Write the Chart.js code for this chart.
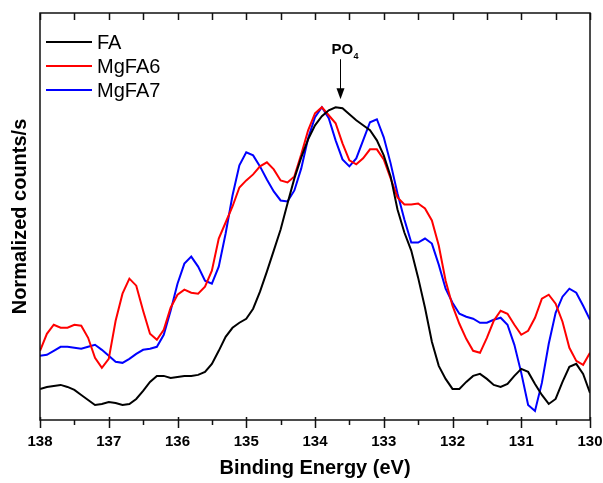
<!DOCTYPE html>
<html>
<head>
<meta charset="utf-8">
<script src="https://cdn.jsdelivr.net/npm/chart.js@4.4.1/dist/chart.umd.min.js"></script>
<style>
  html, body { margin: 0; padding: 0; background: #fff; }
  #wrap { width: 603px; height: 483px; position: relative; }
</style>
</head>
<body>
<div id="wrap"><canvas id="xps"></canvas></div>
<script>
// P 2p region, binding energy in eV (0.1 eV steps)
const energy = [
  138.0, 137.9, 137.8, 137.7, 137.6, 137.5, 137.4, 137.3, 137.2, 137.1,
  137.0, 136.9, 136.8, 136.7, 136.6, 136.5, 136.4, 136.3, 136.2, 136.1,
  136.0, 135.9, 135.8, 135.7, 135.6, 135.5, 135.4, 135.3, 135.2, 135.1,
  135.0, 134.9, 134.8, 134.7, 134.6, 134.5, 134.4, 134.3, 134.2, 134.1,
  134.0, 133.9, 133.8, 133.7, 133.6, 133.5, 133.4, 133.3, 133.2, 133.1,
  133.0, 132.9, 132.8, 132.7, 132.6, 132.5, 132.4, 132.3, 132.2, 132.1,
  132.0, 131.9, 131.8, 131.7, 131.6, 131.5, 131.4, 131.3, 131.2, 131.1,
  131.0, 130.9, 130.8, 130.7, 130.6, 130.5, 130.4, 130.3, 130.2, 130.1,
  130.0
];

const fa = [
  31, 33, 34, 35, 33, 30, 25, 20, 15, 16,
  18, 17, 15, 16, 21, 29, 38, 44, 44, 42,
  43, 44, 44, 45, 48, 56, 69, 83, 92, 97,
  101, 111, 128, 148, 169, 190, 216, 241, 262, 280,
  294, 303, 309, 312, 311, 305, 299, 294, 289, 279,
  264, 243, 210, 187, 169, 142, 112, 78, 54, 41,
  31, 31, 38, 44, 46, 41, 35, 33, 36, 44,
  51, 48, 36, 25, 16, 21, 38, 53, 56, 46,
  27
];

const mgfa6 = [
  69, 86, 95, 92, 92, 95, 94, 82, 62, 52,
  61, 99, 126, 141, 134, 109, 86, 80, 90, 112,
  125, 130, 127, 126, 133, 149, 181, 197, 213, 232,
  239, 245, 253, 257, 250, 239, 237, 243, 265, 289,
  306, 312, 304, 296, 276, 259, 255, 261, 270, 270,
  260, 241, 222, 215, 215, 216, 211, 199, 174, 139,
  114, 96, 81, 69, 67, 82, 99, 109, 106, 95,
  85, 89, 102, 121, 125, 116, 98, 72, 59, 55,
  67
];

const mgfa7 = [
  64, 65, 69, 73, 73, 72, 71, 73, 75, 70,
  64, 58, 57, 61, 66, 70, 71, 73, 85, 109,
  136, 156, 163, 153, 139, 136, 153, 186, 224, 254,
  267, 264, 253, 240, 228, 219, 218, 229, 251, 281,
  302, 312, 301, 279, 260, 253, 261, 279, 297, 300,
  282, 256, 226, 200, 177, 177, 181, 176, 155, 131,
  117, 106, 103, 101, 97, 97, 100, 102, 95, 75,
  47, 15, 9, 37, 76, 107, 123, 131, 127, 114,
  100
];

const seriesNames = ["FA", "MgFA6", "MgFA7"];
const seriesColors = ["#000000", "#ff0000", "#0000ff"];

const majorTicks = [138, 137, 136, 135, 134, 133, 132, 131, 130];
const minorTicks = [137.5, 136.5, 135.5, 134.5, 133.5, 132.5, 131.5, 130.5];

// PO4 marker
const po4Energy = 133.63;
const po4Tip = 320;

const FONT = "'Liberation Sans', Arial, sans-serif";

function toPoints(ys) {
  return ys.map((y, i) => ({ x: energy[i], y: y }));
}

// frame, tick marks, legend and the PO4 arrow
const extras = {
  id: "extras",
  afterDraw(chart) {
    const ctx = chart.ctx;
    const a = chart.chartArea;
    const x = chart.scales.x;
    const y = chart.scales.y;
    ctx.save();

    ctx.strokeStyle = "#111";
    ctx.lineWidth = 1.5;
    ctx.strokeRect(a.left, a.top, a.right - a.left, a.bottom - a.top);

    ctx.lineWidth = 1.5;
    ctx.beginPath();
    majorTicks.forEach(v => {
      const px = Math.round(x.getPixelForValue(v)) + 0.5;
      ctx.moveTo(px, a.bottom - 3); ctx.lineTo(px, a.bottom + 8);
      ctx.moveTo(px, a.top); ctx.lineTo(px, a.top + 7);
    });
    minorTicks.forEach(v => {
      const px = Math.round(x.getPixelForValue(v)) + 0.5;
      ctx.moveTo(px, a.bottom); ctx.lineTo(px, a.bottom + 5);
      ctx.moveTo(px, a.top); ctx.lineTo(px, a.top + 7);
    });
    ctx.stroke();

    // legend
    ctx.font = "20px " + FONT;
    ctx.textBaseline = "middle";
    ctx.textAlign = "left";
    chart.data.datasets.forEach((ds, i) => {
      const ly = 42 + i * 24;
      ctx.strokeStyle = ds.borderColor;
      ctx.lineWidth = 2;
      ctx.beginPath();
      ctx.moveTo(46, ly); ctx.lineTo(92, ly);
      ctx.stroke();
      ctx.fillStyle = "#000";
      ctx.fillText(ds.label, 97, ly + 1);
    });

    // PO4 arrow
    const ax = Math.round(x.getPixelForValue(po4Energy)) + 0.5;
    const tip = y.getPixelForValue(po4Tip);
    ctx.strokeStyle = "#000";
    ctx.fillStyle = "#000";
    ctx.lineWidth = 1;
    ctx.beginPath();
    ctx.moveTo(ax, tip - 40); ctx.lineTo(ax, tip - 8);
    ctx.stroke();
    ctx.beginPath();
    ctx.moveTo(ax, tip); ctx.lineTo(ax - 4, tip - 11); ctx.lineTo(ax + 4, tip - 11);
    ctx.closePath();
    ctx.fill();

    ctx.textBaseline = "alphabetic";
    ctx.textAlign = "left";
    ctx.font = "bold 15px " + FONT;
    ctx.fillText("PO", ax - 9, tip - 45);
    ctx.font = "bold 9px " + FONT;
    ctx.fillText("4", ax + 13, tip - 40);

    ctx.restore();
  }
};

new Chart(document.getElementById("xps"), {
  type: "line",
  data: {
    datasets: [fa, mgfa6, mgfa7].map((ys, i) => ({
      label: seriesNames[i],
      data: toPoints(ys),
      borderColor: seriesColors[i],
      backgroundColor: seriesColors[i],
      borderWidth: 2,
      pointRadius: 0,
      tension: 0,
      fill: false
    }))
  },
  options: {
    responsive: true,
    maintainAspectRatio: false,
    animation: false,
    devicePixelRatio: 1,
    layout: { padding: { left: 8, right: 13, top: 13, bottom: 3 } },
    plugins: { legend: { display: false }, tooltip: { enabled: false } },
    scales: {
      x: {
        type: "linear",
        reverse: true,
        min: 130,
        max: 138,
        // edge labels fit inside the page margin already
        afterFit(scale) {
          scale.paddingLeft = 0;
          scale.paddingRight = 0;
        },
        ticks: {
          stepSize: 1,
          padding: 13,
          color: "#000",
          font: { family: FONT, size: 15, weight: "bold" }
        },
        grid: { display: true, drawOnChartArea: false, drawTicks: false },
        border: { display: false },
        title: {
          display: true,
          text: "Binding Energy (eV)",
          color: "#000",
          font: { family: FONT, size: 20, weight: "bold" },
          padding: { top: -8, bottom: 0 }
        }
      },
      y: {
        min: 0,
        max: 406,
        ticks: { display: false },
        grid: { display: true, drawOnChartArea: false, drawTicks: false },
        border: { display: false },
        title: {
          display: true,
          text: "Normalized counts/s",
          color: "#000",
          font: { family: FONT, size: 20, weight: "bold" },
          padding: { top: 0, bottom: 8 }
        }
      }
    }
  },
  plugins: [extras]
});
</script>
</body>
</html>
